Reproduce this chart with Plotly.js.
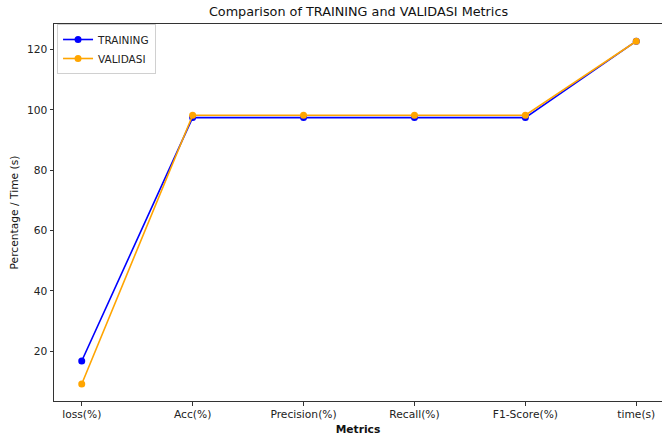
<!DOCTYPE html>
<html>
<head>
<meta charset="utf-8">
<script src="https://cdn.plot.ly/plotly-3.0.1.min.js"></script>
<style>html,body{margin:0;padding:0;background:#fff}#chart{width:662px;height:440px}</style>
</head>
<body>
<div id="chart"></div>
<script>
const categories = ["loss(%)", "Acc(%)", "Precision(%)", "Recall(%)", "F1-Score(%)", "time(s)"];
const training = [16.8, 97.4, 97.4, 97.4, 97.4, 122.7];
const validasi = [9.2, 98.2, 98.2, 98.2, 98.2, 122.7];
const yTicks = [20, 40, 60, 80, 100, 120];

const idx = categories.map((_, i) => i);
const font = "DejaVu Sans, sans-serif";

const traces = [
  {x: idx, y: training, name: "TRAINING", mode: "lines+markers",
   line: {color: "#0000ff", width: 1.6}, marker: {color: "#0000ff", size: 7}},
  {x: idx, y: validasi, name: "VALIDASI", mode: "lines+markers",
   line: {color: "#ffa500", width: 1.6}, marker: {color: "#ffa500", size: 7}}
];

const layout = {
  width: 662, height: 440,
  margin: {l: 54, r: 0, t: 24, b: 39, pad: 0},
  paper_bgcolor: "#fff", plot_bgcolor: "#fff",
  font: {family: font, size: 10.7, color: "#222"},
  title: {text: "Comparison of TRAINING and VALIDASI Metrics", font: {family: font, size: 12.8, color: "#111"},
          x: 358.5/662, xanchor: "center", y: 1 - 12/440, yanchor: "middle"},
  showlegend: true,
  legend: {x: 0.005, y: 1.0, xanchor: "left", yanchor: "top", bgcolor: "rgba(255,255,255,0.8)",
           bordercolor: "#d0d0d0", borderwidth: 1, font: {family: font, size: 10.5, color: "#222"},
           tracegroupgap: 0, itemwidth: 30},
  xaxis: {
    range: [-0.25, 5.232], tickmode: "array", tickvals: idx, ticktext: categories,
    showgrid: false, zeroline: false, showline: true, mirror: true, linecolor: "#333", linewidth: 1,
    ticks: "outside", ticklen: 3.5, tickcolor: "#333", tickwidth: 1,
    title: {text: "<b>Metrics</b>", font: {family: font, size: 10.7, color: "#111"}, standoff: 5},
    automargin: false
  },
  yaxis: {
    range: [3.55, 128.4], tickmode: "array", tickvals: yTicks, ticktext: yTicks.map(String),
    showgrid: false, zeroline: false, showline: true, mirror: false, linecolor: "#333", linewidth: 1,
    ticks: "outside", ticklen: 3.5, tickcolor: "#333", tickwidth: 1,
    title: {text: "Percentage / Time (s)", font: {family: font, size: 10.7, color: "#111"}, standoff: 6},
    automargin: false
  }
};

Plotly.newPlot("chart", traces, layout, {displayModeBar: false, staticPlot: true});
</script>
</body>
</html>
